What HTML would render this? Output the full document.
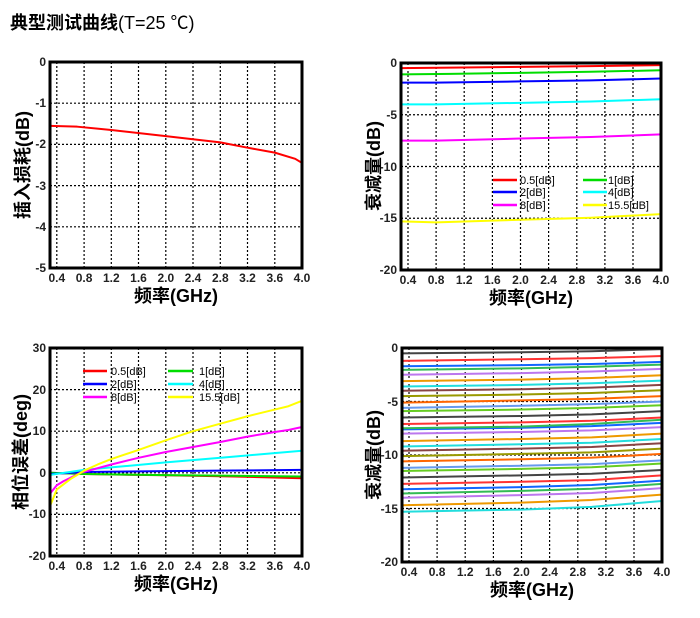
<!DOCTYPE html>
<html><head><meta charset="utf-8"><style>
body{margin:0;background:#fff;width:700px;height:613px;overflow:hidden}
svg{font-family:"Liberation Sans","Noto Sans CJK SC",sans-serif}
.t{font-size:12px;font-weight:bold;fill:#222}
.ax{font-size:18px;font-weight:bold;font-family:"Liberation Sans","Noto Sans CJK SC",sans-serif}
.lg{font-size:11px}
.lg line{stroke-width:2.5}
.g{stroke:#000;stroke-width:1.2;stroke-dasharray:2,2;fill:none}
.fr{fill:none;stroke:#000;stroke-width:3}
polyline{fill:none;stroke-width:2;vector-effect:non-scaling-stroke;stroke-linejoin:round}
</style></head><body>
<svg width="700" height="613" xmlns="http://www.w3.org/2000/svg">
<text x="10" y="29" style="font-size:18px;font-weight:bold;font-family:'Liberation Sans','Noto Sans CJK SC',sans-serif">典型测试曲线<tspan font-weight="normal">(T=25 ℃)</tspan></text>

<!-- Chart 1 -->
<path class="g" d="M56.8 62V268M84.1 62V268M111.3 62V268M138.5 62V268M165.8 62V268M193 62V268M220.3 62V268M247.5 62V268M274.8 62V268M50 103.2H302M50 144.4H302M50 185.6H302M50 226.8H302"/>
<svg x="50" y="62" width="252" height="206" viewBox="0.3 0 3.7 5" preserveAspectRatio="none">
<polyline stroke="#f00" points="0.3,1.55 0.7,1.57 1.2,1.65 2.0,1.8 2.8,1.95 3.2,2.08 3.6,2.2 3.9,2.35 4.0,2.45"/>
</svg>
<rect class="fr" x="50" y="62" width="252" height="206"/>
<g class="t" text-anchor="end"><text x="46" y="66">0</text><text x="46" y="107">-1</text><text x="46" y="148">-2</text><text x="46" y="190">-3</text><text x="46" y="231">-4</text><text x="46" y="272">-5</text></g>
<g class="t" text-anchor="middle"><text x="56.8" y="282">0.4</text><text x="84.1" y="282">0.8</text><text x="111.3" y="282">1.2</text><text x="138.5" y="282">1.6</text><text x="165.8" y="282">2.0</text><text x="193" y="282">2.4</text><text x="220.3" y="282">2.8</text><text x="247.5" y="282">3.2</text><text x="274.8" y="282">3.6</text><text x="302" y="282">4.0</text></g>
<text class="ax" x="176" y="302" text-anchor="middle">频率(GHz)</text>
<text class="ax" transform="translate(29,165) rotate(-90)" text-anchor="middle">插入损耗(dB)</text>

<!-- Chart 2 -->
<path class="g" d="M408 63V270M436.1 63V270M464.2 63V270M492.4 63V270M520.5 63V270M548.6 63V270M576.8 63V270M604.9 63V270M633 63V270M401 114.75H661M401 166.5H661M401 218.25H661"/>
<svg x="401" y="63" width="260" height="207" viewBox="0.3 0 3.7 20" preserveAspectRatio="none">
<polyline stroke="#f00" points="0.3,0.5 1.0,0.45 2.0,0.38 3.0,0.3 4.0,0.2"/>
<polyline stroke="#0d0" points="0.3,1.1 1.0,1.05 2.0,0.95 3.0,0.85 4.0,0.7"/>
<polyline stroke="#00f" points="0.3,1.9 0.8,1.9 2.0,1.78 3.0,1.68 4.0,1.5"/>
<polyline stroke="#0ff" points="0.3,4.0 0.8,4.0 2.0,3.85 3.0,3.72 4.0,3.5"/>
<polyline stroke="#f0f" points="0.3,7.5 0.8,7.5 2.0,7.3 3.0,7.15 4.0,6.9"/>
<polyline stroke="#ff0" points="0.3,15.3 0.8,15.4 2.0,15.15 3.0,14.95 4.0,14.6"/>
</svg>
<rect class="fr" x="401" y="63" width="260" height="207"/>
<g class="lg">
<line x1="493" y1="180" x2="517" y2="180" stroke="#f00"/><text x="520" y="184">0.5[dB]</text>
<line x1="583" y1="180" x2="607" y2="180" stroke="#0d0"/><text x="608" y="184">1[dB]</text>
<line x1="493" y1="192" x2="517" y2="192" stroke="#00f"/><text x="520" y="196">2[dB]</text>
<line x1="583" y1="192" x2="607" y2="192" stroke="#0ff"/><text x="608" y="196">4[dB]</text>
<line x1="493" y1="205" x2="517" y2="205" stroke="#f0f"/><text x="520" y="209">8[dB]</text>
<line x1="583" y1="205" x2="607" y2="205" stroke="#ff0"/><text x="608" y="209">15.5[dB]</text>
</g>
<g class="t" text-anchor="end"><text x="397" y="67">0</text><text x="397" y="119">-5</text><text x="397" y="171">-10</text><text x="397" y="222">-15</text><text x="397" y="274">-20</text></g>
<g class="t" text-anchor="middle"><text x="408" y="284">0.4</text><text x="436.1" y="284">0.8</text><text x="464.2" y="284">1.2</text><text x="492.4" y="284">1.6</text><text x="520.5" y="284">2.0</text><text x="548.6" y="284">2.4</text><text x="576.8" y="284">2.8</text><text x="604.9" y="284">3.2</text><text x="633" y="284">3.6</text><text x="661" y="284">4.0</text></g>
<text class="ax" x="531" y="304" text-anchor="middle">频率(GHz)</text>
<text class="ax" transform="translate(380,166) rotate(-90)" text-anchor="middle">衰减量(dB)</text>

<!-- Chart 3 -->
<path class="g" d="M56.8 348V556M84.1 348V556M111.3 348V556M138.5 348V556M165.8 348V556M193 348V556M220.3 348V556M247.5 348V556M274.8 348V556M50 389.6H302M50 431.2H302M50 472.8H302M50 514.4H302"/>
<svg x="50" y="348" width="252" height="208" viewBox="0.3 -30 3.7 50" preserveAspectRatio="none">
<polyline stroke="#f00" points="0.3,0 0.8,0.3 2.0,0.6 3.0,0.9 4.0,1.3"/>
<polyline stroke="#0d0" points="0.3,0 0.8,0.3 2.0,0.55 3.0,0.7 4.0,0.9"/>
<polyline stroke="#00f" points="0.3,0.3 0.8,-0.2 2.0,-0.4 3.0,-0.55 4.0,-0.7"/>
<polyline stroke="#0ff" points="0.3,0.5 0.8,-0.7 1.4,-1.6 2.0,-2.5 3.0,-3.9 4.0,-5.3"/>
<polyline stroke="#f0f" points="0.3,5 0.4,3 0.5,2 0.75,0 1.2,-2 1.6,-3.6 2.0,-5 2.4,-6.2 2.8,-7.4 3.2,-8.7 3.6,-9.8 3.8,-10.3 4.0,-11"/>
<polyline stroke="#ff0" points="0.3,8 0.4,4 0.6,1.5 0.8,-0.5 1.0,-2 1.2,-3.3 1.6,-5.5 2.0,-7.8 2.4,-10 2.8,-11.8 3.2,-13.6 3.6,-15.2 3.8,-16 4.0,-17.3"/>
</svg>
<rect class="fr" x="50" y="348" width="252" height="208"/>
<g class="lg">
<line x1="83" y1="371" x2="107" y2="371" stroke="#f00"/><text x="111" y="375">0.5[dB]</text>
<line x1="168" y1="371" x2="193" y2="371" stroke="#0d0"/><text x="199" y="375">1[dB]</text>
<line x1="83" y1="384" x2="107" y2="384" stroke="#00f"/><text x="111" y="388">2[dB]</text>
<line x1="168" y1="384" x2="193" y2="384" stroke="#0ff"/><text x="199" y="388">4[dB]</text>
<line x1="83" y1="397" x2="107" y2="397" stroke="#f0f"/><text x="111" y="401">8[dB]</text>
<line x1="168" y1="397" x2="193" y2="397" stroke="#ff0"/><text x="199" y="401">15.5[dB]</text>
</g>
<g class="t" text-anchor="end"><text x="46" y="352">30</text><text x="46" y="394">20</text><text x="46" y="435">10</text><text x="46" y="477">0</text><text x="46" y="518">-10</text><text x="46" y="560">-20</text></g>
<g class="t" text-anchor="middle"><text x="56.8" y="570">0.4</text><text x="84.1" y="570">0.8</text><text x="111.3" y="570">1.2</text><text x="138.5" y="570">1.6</text><text x="165.8" y="570">2.0</text><text x="193" y="570">2.4</text><text x="220.3" y="570">2.8</text><text x="247.5" y="570">3.2</text><text x="274.8" y="570">3.6</text><text x="302" y="570">4.0</text></g>
<text class="ax" x="176" y="590" text-anchor="middle">频率(GHz)</text>
<text class="ax" transform="translate(27,452) rotate(-90)" text-anchor="middle">相位误差(deg)</text>

<!-- Chart 4 -->
<path class="g" d="M409 348V562M437.1 348V562M465.2 348V562M493.4 348V562M521.5 348V562M549.6 348V562M577.8 348V562M605.9 348V562M634 348V562M402 401.5H662M402 455H662M402 508.5H662"/>
<svg x="402" y="348" width="260" height="214" viewBox="0.3 0 3.7 20" preserveAspectRatio="none">
<polyline stroke="#444" points="0.3,0.5 2,0.4 3,0.3 4,0.1"/>
<polyline stroke="#f33" points="0.3,1.2 2,1.05 3,0.95 4,0.75"/>
<polyline stroke="#16f" points="0.3,1.7 2,1.6 3,1.5 4,1.3"/>
<polyline stroke="#3b5" points="0.3,2.05 2,1.9 3,1.75 4,1.55"/>
<polyline stroke="#b7e" points="0.3,2.5 2,2.35 3,2.2 4,1.95"/>
<polyline stroke="#e90" points="0.3,3.1 2,2.95 3,2.8 4,2.55"/>
<polyline stroke="#2dd" points="0.3,3.6 2,3.45 3,3.3 4,3.05"/>
<polyline stroke="#844" points="0.3,4.0 2,3.85 3,3.7 4,3.45"/>
<polyline stroke="#990" points="0.3,4.5 2,4.35 3,4.2 4,3.95"/>
<polyline stroke="#f60" points="0.3,5.1 2,4.9 3,4.75 4,4.5"/>
<polyline stroke="#69e" points="0.3,5.6 2,5.4 3,5.25 4,5.0"/>
<polyline stroke="#6c2" points="0.3,5.9 2,5.75 3,5.6 4,5.35"/>
<polyline stroke="#444" points="0.3,6.5 2,6.35 3,6.2 4,5.9"/>
<polyline stroke="#f33" points="0.3,7.1 2,6.95 3,6.8 4,6.5"/>
<polyline stroke="#16f" points="0.3,7.6 2,7.45 3,7.3 4,7.0"/>
<polyline stroke="#3b5" points="0.3,7.5 2,7.35 3,7.1 4,6.7"/>
<polyline stroke="#b7e" points="0.3,8.0 2,7.85 3,7.7 4,7.4"/>
<polyline stroke="#e90" points="0.3,8.7 2,8.5 3,8.35 4,8.0"/>
<polyline stroke="#2dd" points="0.3,9.2 2,9.0 3,8.85 4,8.5"/>
<polyline stroke="#844" points="0.3,9.6 2,9.4 3,9.25 4,8.9"/>
<polyline stroke="#990" points="0.3,10.1 2,9.9 3,9.75 4,9.4"/>
<polyline stroke="#f60" points="0.3,10.6 2,10.4 3,10.25 4,9.9"/>
<polyline stroke="#69e" points="0.3,11.2 2,11.0 3,10.85 4,10.5"/>
<polyline stroke="#6c2" points="0.3,11.5 2,11.3 3,11.15 4,10.8"/>
<polyline stroke="#444" points="0.3,12.1 2,11.9 3,11.75 4,11.4"/>
<polyline stroke="#f33" points="0.3,12.7 2,12.5 3,12.35 4,11.9"/>
<polyline stroke="#16f" points="0.3,13.2 2,13.0 3,12.8 4,12.4"/>
<polyline stroke="#3b5" points="0.3,13.6 2,13.35 3,13.15 4,12.7"/>
<polyline stroke="#b7e" points="0.3,14.0 2,13.75 3,13.55 4,13.1"/>
<polyline stroke="#e90" points="0.3,14.7 2,14.45 3,14.2 4,13.7"/>
<polyline stroke="#2dd" points="0.3,15.3 2,15.1 3,14.85 4,14.3"/>
</svg>
<rect class="fr" x="402" y="348" width="260" height="214"/>
<g class="t" text-anchor="end"><text x="398" y="352">0</text><text x="398" y="406">-5</text><text x="398" y="459">-10</text><text x="398" y="513">-15</text><text x="398" y="566">-20</text></g>
<g class="t" text-anchor="middle"><text x="409" y="576">0.4</text><text x="437.1" y="576">0.8</text><text x="465.2" y="576">1.2</text><text x="493.4" y="576">1.6</text><text x="521.5" y="576">2.0</text><text x="549.6" y="576">2.4</text><text x="577.8" y="576">2.8</text><text x="605.9" y="576">3.2</text><text x="634" y="576">3.6</text><text x="662" y="576">4.0</text></g>
<text class="ax" x="532" y="596" text-anchor="middle">频率(GHz)</text>
<text class="ax" transform="translate(380,455) rotate(-90)" text-anchor="middle">衰减量(dB)</text>
</svg>
</body></html>
